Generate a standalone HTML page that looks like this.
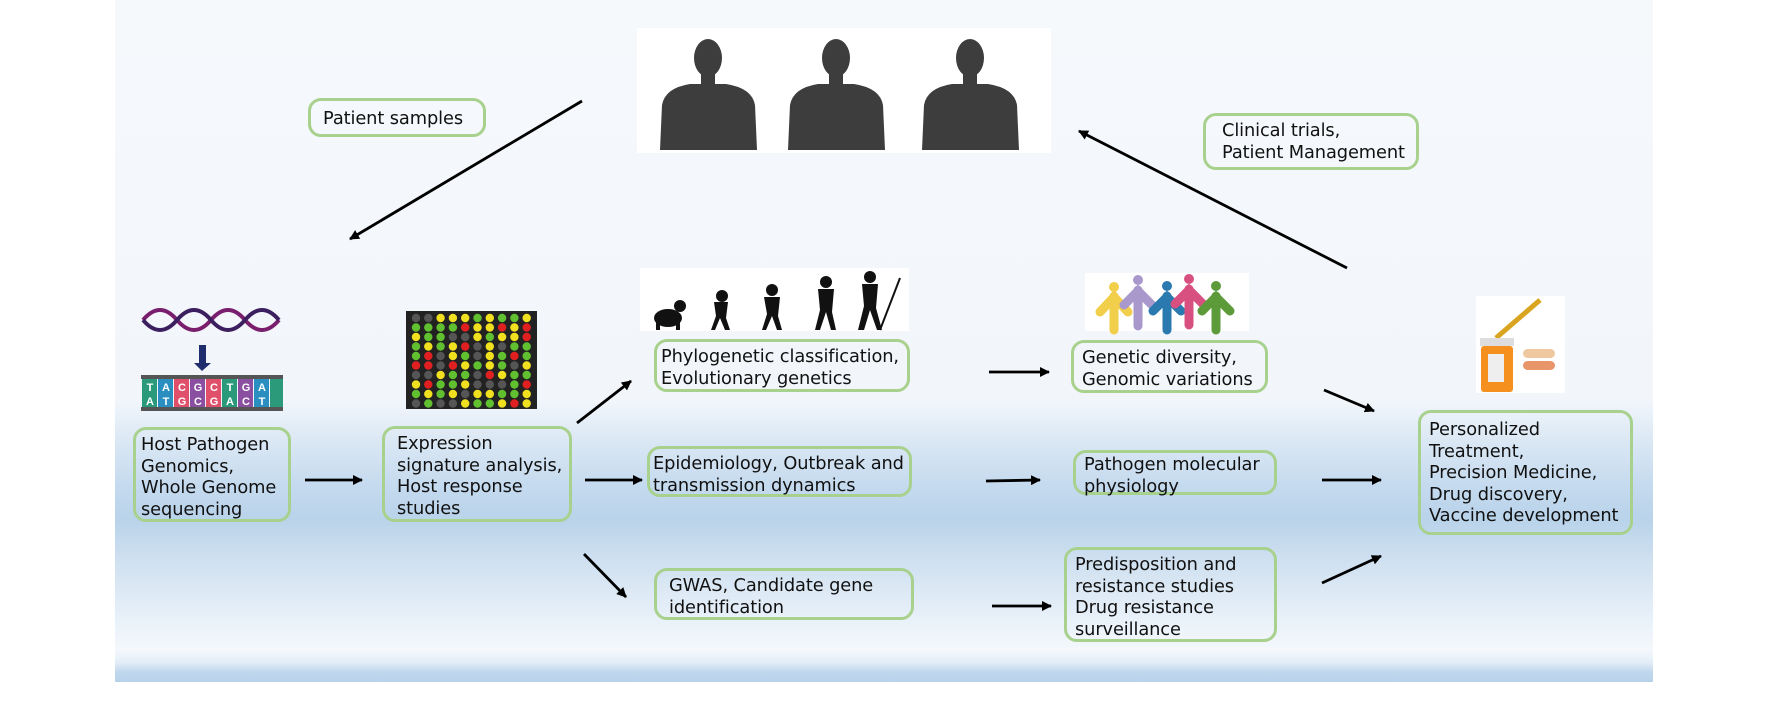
<!DOCTYPE html>
<html><head><meta charset="utf-8"><style>
html,body{margin:0;padding:0;background:#fff;}
#c{position:relative;width:1772px;height:709px;overflow:hidden;background:#fff;font-family:"DejaVu Sans","Liberation Sans",sans-serif;}
#bg{position:absolute;left:115px;top:0;width:1538px;height:682px;
background:linear-gradient(to bottom,#f6f9fc 0px,#f2f6fb 400px,#dbe8f4 440px,#c3d9ee 490px,#b9d3ea 520px,#cfe0f0 560px,#e9f1f9 620px,#f4f8fc 650px,#e4eef8 662px,#c0d7ec 672px,#b8d2ea 682px);}
.b{position:absolute;box-sizing:border-box;border:3px solid #a9d18e;border-radius:13px;font-size:17.8px;line-height:21.5px;color:#111;padding:4px 6px;white-space:nowrap;letter-spacing:-0.1px;}
svg{position:absolute;left:0;top:0;}
</style></head><body><div id="c">
<div id="bg"></div>
<svg width="1772" height="709">
<defs><marker id="a" markerWidth="10" markerHeight="10" refX="9" refY="5" orient="auto" markerUnits="userSpaceOnUse"><path d="M0,0 L10,5 L0,10z" fill="#000"/></marker></defs>
<rect x="637" y="28" width="414" height="125" fill="#fff"/>
<g fill="#3d3d3d">
<g id="p"><ellipse cx="708" cy="58" rx="14" ry="19"/><rect x="701" y="70" width="14" height="14"/><path d="M660,150 L662,105 Q665,88 690,84 L726,84 Q752,88 755,105 L757,150z"/></g>
<use href="#p" x="128"/><use href="#p" x="262"/>
</g>
<g>
<path d="M143,320 Q160,300 177,320 T211,320 T245,320 T279,320" stroke="#7a1f6e" stroke-width="4" fill="none"/>
<path d="M143,320 Q160,340 177,320 T211,320 T245,320 T279,320" stroke="#3b1f5e" stroke-width="4" fill="none"/>
<rect x="199" y="345" width="7" height="20" fill="#1f2d6e"/><path d="M194,363 L211,363 L202,371z" fill="#1f2d6e"/>
<rect x="141" y="375" width="142" height="4" fill="#555"/><rect x="141" y="407" width="142" height="4" fill="#555"/>
<g font-size="11" fill="#fff" text-anchor="middle" font-weight="bold" font-family="Liberation Sans">
<rect x="142" y="379" width="15" height="28" fill="#2a9a7a"/><rect x="158" y="379" width="15" height="28" fill="#2a8fc0"/><rect x="174" y="379" width="15" height="28" fill="#e0506a"/><rect x="190" y="379" width="15" height="28" fill="#8a4fa0"/><rect x="206" y="379" width="15" height="28" fill="#e0506a"/><rect x="222" y="379" width="15" height="28" fill="#2a9a7a"/><rect x="238" y="379" width="15" height="28" fill="#8a4fa0"/><rect x="254" y="379" width="15" height="28" fill="#2a8fc0"/><rect x="270" y="379" width="13" height="28" fill="#2a9a7a"/>
<text x="150" y="391">T</text><text x="166" y="391">A</text><text x="182" y="391">C</text><text x="198" y="391">G</text><text x="214" y="391">C</text><text x="230" y="391">T</text><text x="246" y="391">G</text><text x="262" y="391">A</text>
<text x="150" y="405">A</text><text x="166" y="405">T</text><text x="182" y="405">G</text><text x="198" y="405">C</text><text x="214" y="405">G</text><text x="230" y="405">A</text><text x="246" y="405">C</text><text x="262" y="405">T</text>
</g></g>
<rect x="406" y="311" width="131" height="98" fill="#222"/>
<g id="dots"></g>
<rect x="640" y="268" width="269" height="63" fill="#fff"/>
<g fill="#111">
<ellipse cx="668" cy="318" rx="14" ry="9"/><circle cx="680" cy="306" r="6"/><rect x="656" y="320" width="4" height="10"/><rect x="676" y="320" width="4" height="10"/>
<circle cx="722" cy="296" r="6"/><path d="M714,302 L728,302 L726,318 L730,330 L725,330 L720,318 L715,330 L711,330 L716,316z"/>
<circle cx="772" cy="290" r="6"/><path d="M764,297 L780,297 L778,316 L782,330 L777,330 L772,316 L766,330 L762,330 L767,314z"/>
<circle cx="826" cy="282" r="6"/><path d="M818,289 L834,289 L832,312 L836,330 L831,330 L826,312 L820,330 L815,330 L820,310z"/>
<circle cx="870" cy="277" r="6"/><path d="M862,284 L878,284 L876,308 L882,330 L877,330 L870,310 L864,330 L858,330 L864,306z"/>
<line x1="880" y1="330" x2="900" y2="278" stroke="#111" stroke-width="2"/>
</g>
<rect x="1085" y="273" width="164" height="58" fill="#fff"/>
<g stroke-linecap="round" stroke-width="9" fill="none">
<g stroke="#f2cf4a"><circle cx="1114" cy="287" r="5" fill="#f2cf4a" stroke="none"/><path d="M1114,296 L1114,330 M1100,312 L1114,297 L1128,312"/></g>
<g stroke="#a898cc"><circle cx="1138" cy="280" r="5" fill="#a898cc" stroke="none"/><path d="M1138,290 L1138,326 M1124,305 L1138,291 L1152,305"/></g>
<g stroke="#2a7ab0"><circle cx="1167" cy="286" r="5" fill="#2a7ab0" stroke="none"/><path d="M1167,296 L1167,330 M1153,311 L1167,297 L1181,311"/></g>
<g stroke="#d85080"><circle cx="1189" cy="279" r="5" fill="#d85080" stroke="none"/><path d="M1189,289 L1189,325 M1175,304 L1189,290 L1203,304"/></g>
<g stroke="#5c9a3a"><circle cx="1216" cy="286" r="5" fill="#5c9a3a" stroke="none"/><path d="M1216,296 L1216,330 M1202,311 L1216,297 L1230,311"/></g>
</g>
<rect x="1476" y="296" width="89" height="97" fill="#fff"/>
<line x1="1496" y1="338" x2="1540" y2="300" stroke="#d9a520" stroke-width="5"/>
<rect x="1480" y="338" width="34" height="8" fill="#ddd"/>
<rect x="1481" y="346" width="32" height="46" rx="3" fill="#f5901e"/>
<rect x="1488" y="354" width="16" height="28" fill="#eee"/>
<rect x="1523" y="349" width="32" height="9" rx="4.5" fill="#f0c8a0"/>
<rect x="1523" y="361" width="32" height="9" rx="4.5" fill="#e8956a"/>
<g stroke="#000" stroke-width="2.8" marker-end="url(#a)">
<line x1="582" y1="101" x2="350" y2="239"/>
<line x1="1347" y1="268" x2="1079" y2="131"/>
<line x1="305" y1="480" x2="362" y2="480"/>
<line x1="577" y1="423" x2="631" y2="381"/>
<line x1="585" y1="480" x2="642" y2="480"/>
<line x1="584" y1="554" x2="626" y2="597"/>
<line x1="989" y1="372" x2="1049" y2="372"/>
<line x1="986" y1="481" x2="1040" y2="480"/>
<line x1="992" y1="606" x2="1051" y2="606"/>
<line x1="1324" y1="390" x2="1374" y2="411"/>
<line x1="1322" y1="480" x2="1381" y2="480"/>
<line x1="1322" y1="583" x2="1381" y2="556"/>
</g>
</svg>
<div class="b" style="left:308px;top:98px;width:178px;height:39px;line-height:27px;padding-left:12px">Patient samples</div>
<div class="b" style="left:1203px;top:113px;width:216px;height:57px;padding-left:16px">Clinical trials,<br>Patient Management</div>
<div class="b" style="left:133px;top:427px;width:158px;height:95px;padding-left:5px">Host Pathogen<br>Genomics,<br>Whole Genome<br>sequencing</div>
<div class="b" style="left:382px;top:426px;width:190px;height:96px;padding-left:12px">Expression<br>signature analysis,<br>Host response<br>studies</div>
<div class="b" style="left:654px;top:339px;width:256px;height:53px;padding-left:4px">Phylogenetic classification,<br>Evolutionary genetics</div>
<div class="b" style="left:647px;top:446px;width:265px;height:51px;padding-left:3px">Epidemiology, Outbreak and<br>transmission dynamics</div>
<div class="b" style="left:654px;top:568px;width:260px;height:52px;padding:4px 12px">GWAS, Candidate gene<br>identification</div>
<div class="b" style="left:1071px;top:340px;width:197px;height:53px;padding-left:8px">Genetic diversity,<br>Genomic variations</div>
<div class="b" style="left:1073px;top:450px;width:204px;height:45px;padding-top:1px;padding-left:8px">Pathogen molecular<br>physiology</div>
<div class="b" style="left:1064px;top:547px;width:213px;height:95px;padding-left:8px">Predisposition and<br>resistance studies<br>Drug resistance<br>surveillance</div>
<div class="b" style="left:1418px;top:410px;width:215px;height:125px;padding-top:6px;padding-left:8px">Personalized<br>Treatment,<br>Precision Medicine,<br>Drug discovery,<br>Vaccine development</div>
</div>
<script>
var g=document.getElementById('dots'),c=['#555','#e02020','#f0e020','#60c030'],s='';
var seq="0120002302132323132333013212302213012312300131020220322232";
for(var r=0;r<10;r++)for(var k=0;k<10;k++){var i=(r*7+k*3+(r*k))%seq.length;s+='<circle cx="'+(416+k*12.3)+'" cy="'+(318+r*9.5)+'" r="4.2" fill="'+c[+seq[i]]+'"/>';}
g.innerHTML=s;
</script>
</body></html>
